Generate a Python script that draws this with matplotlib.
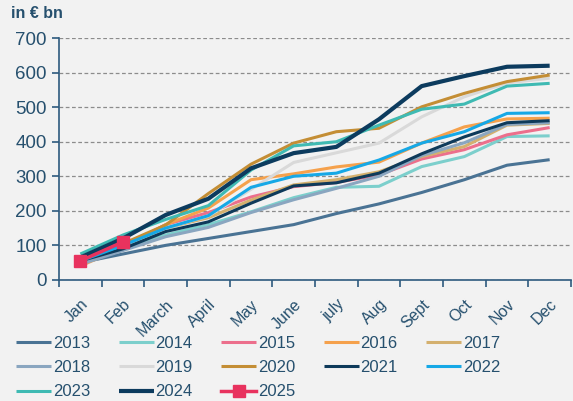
import matplotlib
matplotlib.use("Agg")
import matplotlib.pyplot as plt
import numpy as np

months = ["Jan", "Feb", "March", "April", "May", "June", "july", "Aug", "Sept", "Oct", "Nov", "Dec"]

y2013 = [50, 75, 100, 120, 140, 160, 192, 220, 253, 290, 332, 348]
y2014 = [62, 90, 130, 160, 197, 238, 268, 271, 328, 357, 415, 417]
y2015 = [55, 95, 160, 195, 240, 270, 282, 304, 350, 377, 420, 441]
y2016 = [40, 95, 160, 208, 290, 307, 327, 341, 396, 443, 466, 468]
y2017 = [50, 90, 150, 180, 231, 275, 290, 313, 357, 386, 448, 453]
y2018 = [45, 85, 125, 152, 195, 232, 265, 300, 360, 397, 450, 455]
y2019 = [55, 100, 150, 185, 262, 340, 368, 396, 472, 530, 570, 584]
y2020 = [62, 105, 159, 250, 335, 396, 429, 439, 501, 540, 574, 593]
y2021 = [55, 90, 140, 168, 222, 272, 281, 309, 365, 414, 455, 461]
y2022 = [55, 100, 150, 186, 268, 300, 309, 347, 396, 429, 482, 484]
y2023 = [75, 130, 175, 215, 318, 388, 400, 448, 494, 509, 561, 569]
y2024 = [65, 120, 188, 235, 323, 367, 385, 465, 561, 590, 617, 620]
y2025 = [55, 110]

series = [
    ("2013", y2013, "#4a7394", 2.2),
    ("2014", y2014, "#7ccfcc", 2.2),
    ("2015", y2015, "#ec6f8c", 2.2),
    ("2016", y2016, "#f5a14c", 2.2),
    ("2017", y2017, "#d4b06e", 2.2),
    ("2018", y2018, "#8aa6c0", 2.2),
    ("2019", y2019, "#d9d9d9", 2.2),
    ("2020", y2020, "#c48e35", 2.2),
    ("2021", y2021, "#0e3a5a", 2.2),
    ("2022", y2022, "#16a8e6", 2.2),
    ("2023", y2023, "#3fbab3", 2.2),
    ("2024", y2024, "#0c3b5e", 3.0),
]

txt = "#26506e"
bg = "#f2f2f2"
plt.rcParams['font.family'] = ['Liberation Sans', 'DejaVu Sans']

fig = plt.figure(figsize=(5.73, 4.01), dpi=100, facecolor=bg)
ax = fig.add_axes([0.103, 0.302, 0.8935, 0.603], facecolor=bg)

x = np.arange(len(months))
for name, vals, col, lw in series:
    ax.plot(x[:len(vals)], vals, color=col, lw=lw, label=name, solid_capstyle='butt', zorder=3)
ax.plot(x[:len(y2025)], y2025, color="#e8325e", lw=2.5, marker='s', markersize=9,
        label="2025", zorder=5)

ax.set_xlim(-0.5, 11.5)
ax.set_ylim(0, 700)
ax.set_yticks(np.arange(0, 701, 100))
ax.yaxis.grid(True, linestyle=(0, (3, 2)), color="#8c8c8c", lw=0.9)
ax.set_axisbelow(True)
for s in ["top", "right"]:
    ax.spines[s].set_visible(False)
for s in ["left", "bottom"]:
    ax.spines[s].set_color("#2e5a7e")
    ax.spines[s].set_linewidth(1.2)

ax.tick_params(axis='y', colors="#2e5a7e", labelcolor=txt, labelsize=13.5, length=5, width=1.2, pad=4)
ax.set_xticks(x)
ax.set_xticklabels(months, rotation=45, ha='right', rotation_mode='anchor', color=txt, fontsize=11.5)
ax.tick_params(axis='x', which='major', length=0, pad=12)
ax.set_xticks(np.arange(-0.5, 12, 1), minor=True)
ax.tick_params(axis='x', which='minor', length=5, width=1.2, colors="#2e5a7e")

fig.text(0.02, 0.967, "in € bn", color=txt, fontsize=11.5, fontweight='bold', ha='left', va='center')

handles, labels = ax.get_legend_handles_labels()
order = [0, 5, 10, 1, 6, 11, 2, 7, 12, 3, 8, 4, 9]
handles = [handles[i] for i in order]
labels = [labels[i] for i in order]
leg = fig.legend(handles, labels, ncol=5, loc='upper left', bbox_to_anchor=(0.028, 0.162),
                 frameon=False, fontsize=12, handlelength=2.1, handletextpad=0.1,
                 columnspacing=1.72, labelspacing=0.55, borderaxespad=0, borderpad=0)
for t in leg.get_texts():
    t.set_color(txt)

fig.savefig("out.png", dpi=100, facecolor=bg)
